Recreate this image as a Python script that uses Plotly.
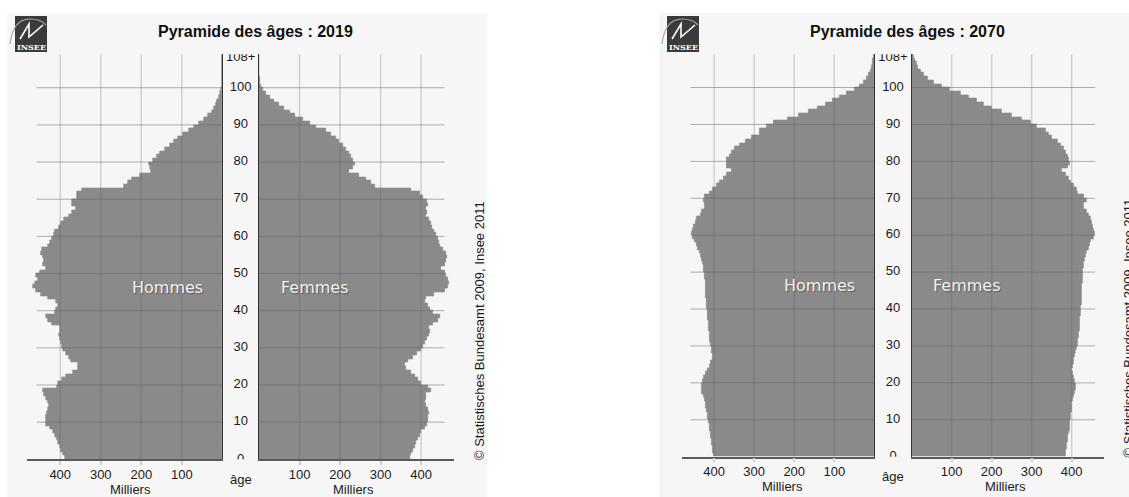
import plotly.graph_objects as go

# ---------------- data ----------------
ages = list(range(109))
age_ticks = [0, 10, 20, 30, 40, 50, 60, 70, 80, 90, 100, 108]
age_labels = ["0", "10", "20", "30", "40", "50", "60", "70", "80", "90", "100", "108+"]
age_grid = [10, 20, 30, 40, 50, 60, 70, 80, 90, 100]
x_ticks = [100, 200, 300, 400]
x_tick_labels = ["100", "200", "300", "400"]

hommes_2019 = [389, 393, 397, 401, 405, 409, 414, 418, 426, 435,
               435, 436, 433, 431, 428, 431, 435, 439, 443, 409,
               405, 395, 385, 369, 356, 356, 373, 379, 385, 392,
               396, 398, 401, 404, 401, 401, 420, 430, 435, 414,
               410, 405, 410, 430, 447, 459, 466, 463, 455, 459,
               451, 435, 442, 439, 442, 447, 444, 431, 426, 421,
               416, 412, 403, 398, 390, 379, 371, 360, 371, 371,
               359, 359, 346, 242, 232, 222, 202, 177, 179, 181,
               172, 162, 153, 141, 130, 119, 109, 96, 82, 69,
               57, 45, 35, 25, 20, 16, 12, 8, 6, 2.5,
               1.5, 0.8, 0.5, 0.3, 0.2, 0.1, 0.05, 0.03, 0.02]

femmes_2019 = [372, 376, 380, 384, 388, 392, 397, 401, 409, 415,
               417, 417, 420, 417, 413, 409, 411, 413, 425, 417,
               401, 392, 384, 376, 364, 360, 368, 380, 390, 401,
               405, 409, 415, 420, 421, 420, 429, 442, 447, 429,
               421, 417, 409, 413, 433, 458, 466, 470, 466, 462,
               458, 450, 458, 461, 465, 462, 454, 446, 444, 442,
               438, 431, 428, 424, 420, 411, 415, 411, 418, 415,
               405, 397, 376, 286, 276, 265, 247, 222, 231, 236,
               232, 228, 222, 214, 208, 198, 191, 177, 165, 140,
               126, 109, 90, 76, 62, 50, 38, 27, 17, 9,
               4, 2.5, 1.5, 0.8, 0.4, 0.2, 0.1, 0.05, 0.03]

hommes_2070 = [402, 403, 404, 405, 407, 408, 409, 410, 412, 413,
               415, 417, 418, 420, 421, 424, 427, 430, 432, 432,
               429, 425, 421, 416, 412, 408, 404, 404, 405, 407,
               409, 410, 411, 412, 413, 413, 414, 415, 416, 417,
               418, 418, 419, 420, 420, 421, 422, 422, 423, 424,
               425, 427, 429, 431, 433, 436, 440, 444, 449, 453,
               457, 453, 451, 446, 444, 434, 432, 423, 423, 426,
               423, 411, 403, 394, 386, 376, 368, 356, 368, 369,
               368, 361, 356, 348, 337, 321, 307, 287, 287, 269,
               252, 217, 190, 165, 142, 121, 103, 86, 69, 48,
               36, 26, 19, 13, 10, 7, 5, 3, 2]

femmes_2070 = [384, 385, 387, 388, 389, 391, 393, 394, 395, 396,
               397, 398, 399, 400, 401, 403, 405, 407, 409, 409,
               407, 404, 402, 401, 402, 404, 405, 407, 410, 412,
               415, 416, 417, 418, 419, 420, 421, 421, 422, 422,
               423, 424, 424, 425, 425, 426, 426, 427, 427, 428,
               428, 429, 430, 432, 434, 438, 443, 445, 448, 455,
               457, 455, 453, 451, 448, 443, 438, 430, 430, 437,
               430, 415, 412, 405, 397, 393, 384, 376, 389, 395,
               393, 389, 384, 379, 372, 364, 351, 343, 334, 312,
               297, 276, 251, 226, 201, 181, 162, 143, 122, 96,
               74, 56, 41, 31, 22, 16, 12, 7, 4]

# ---------------- figure ----------------
W, H = 1129, 497
FONT = "Liberation Sans, Arial, sans-serif"
BAR = "#8a8a8a"
PANEL_BG = "#f6f6f6"
VGRID = "rgba(88,88,88,0.24)"
HGRID = "rgba(100,100,100,0.5)"


def px(x):
    return x / W


def py(y):
    return 1 - y / H


panels = [
    dict(year="2019", hommes=hommes_2019, femmes=femmes_2019, ox=0, oy=0,
         hx0=27, h0=222.3, f0=259, fx1=454.3, yb=459.3, yt=54.3, xmax=482,
         hgrid=458, copy_x=479),
    dict(year="2070", hommes=hommes_2070, femmes=femmes_2070, ox=652, oy=-2.6,
         hx0=681.7, h0=874.3, f0=911.7, fx1=1104, yb=456.7, yt=54.3, xmax=481,
         hgrid=459, copy_x=476),
]

fig = go.Figure()
layout = dict(
    width=W, height=H, autosize=False,
    margin=dict(l=0, r=0, t=0, b=0, pad=0),
    paper_bgcolor="white", plot_bgcolor="rgba(0,0,0,0)",
    showlegend=False, barmode="overlay", bargap=0, bargroupgap=0,
    font=dict(family=FONT, size=13, color="#1a1a1a"),
)
shapes = []
annotations = []

bar_y = [a + 0.5 for a in ages]


def xn(k):
    return "x" if k == 1 else f"x{k}"


def yn(k):
    return "y" if k == 1 else f"y{k}"


def xl(k):
    return "xaxis" if k == 1 else f"xaxis{k}"


def yl(k):
    return "yaxis" if k == 1 else f"yaxis{k}"


for i, p in enumerate(panels):
    xh, xf, xm = 3 * i + 1, 3 * i + 2, 3 * i + 3
    yh, yf = 2 * i + 1, 2 * i + 2

    for vals, xa, ya in ((p["hommes"], xh, yh), (p["femmes"], xf, yf)):
        fig.add_trace(go.Bar(x=vals, y=bar_y, orientation="h", width=1,
                             marker=dict(color=BAR, line=dict(width=0.6, color=BAR)),
                             xaxis=xn(xa), yaxis=yn(ya), hoverinfo="skip"))
        # grid lines drawn over the bars, as in the original
        for t in age_grid:
            shapes.append(dict(type="line", xref=xn(xa), yref=yn(ya), layer="above",
                               x0=0, x1=p["hgrid"], y0=t, y1=t,
                               line=dict(color=HGRID, width=1)))
        for t in x_ticks:
            shapes.append(dict(type="line", xref=xn(xa), yref=yn(ya), layer="above",
                               x0=t, x1=t, y0=0, y1=109,
                               line=dict(color=VGRID, width=1.5)))

    fig.add_trace(go.Scatter(x=[0.5] * len(age_ticks), y=age_ticks, mode="text",
                             text=age_labels,
                             textfont=dict(family=FONT, size=13, color="#1a1a1a"),
                             xaxis=xn(xm), yaxis=yn(yh), hoverinfo="skip"))

    ydom = [py(p["yb"]), py(p["yt"])]
    xcommon = dict(tickvals=x_ticks, ticktext=x_tick_labels, showgrid=False,
                   zeroline=False,
                   showline=True, linecolor="#5a5a5a", linewidth=1.5,
                   ticks="outside", ticklen=4, tickcolor="#d0d0d0", tickwidth=1.5,
                   ticklabelstandoff=-2,
                   tickfont=dict(family=FONT, size=13, color="#1a1a1a"),
                   fixedrange=True)
    ycommon = dict(range=[0, 109], domain=ydom,
                   showticklabels=False, ticks="", showgrid=False, zeroline=False,
                   showline=True, linecolor="#333333", linewidth=1,
                   fixedrange=True)
    layout[xl(xh)] = dict(domain=[px(p["hx0"]), px(p["h0"])],
                          range=[p["xmax"], 0], anchor=yn(yh), **xcommon)
    layout[xl(xf)] = dict(domain=[px(p["f0"]), px(p["fx1"])],
                          range=[0, p["xmax"]], anchor=yn(yf), **xcommon)
    layout[xl(xm)] = dict(domain=[px(p["h0"]), px(p["f0"])], range=[0, 1],
                          anchor=yn(yh), visible=False, fixedrange=True)
    layout[yl(yh)] = dict(anchor=xn(xh), side="right", **ycommon)
    layout[yl(yf)] = dict(anchor=xn(xf), side="left", **ycommon)

    ox, oy = p["ox"], p["oy"]
    # panel background
    shapes.append(dict(type="rect", xref="paper", yref="paper", layer="below",
                       x0=px(7 + ox), x1=px(487 + ox), y0=0, y1=py(14 + oy / 2),
                       fillcolor=PANEL_BG, line=dict(width=0)))
    # INSEE logo
    shapes.append(dict(type="rect", xref="paper", yref="paper", layer="above",
                       x0=px(15 + ox), x1=px(47 + ox), y0=py(52), y1=py(16),
                       fillcolor="#3b3b3b", line=dict(width=0)))
    arc = "M {} {} Q {} {} {} {} Q {} {} {} {}".format(
        px(10 + ox), py(44), px(13 + ox), py(19), px(30 + ox), py(19),
        px(41 + ox), py(19), px(46 + ox), py(25))
    shapes.append(dict(type="path", xref="paper", yref="paper", layer="above",
                       path=arc, line=dict(color="#a8a8a8", width=1.2)))
    zig = "M {} {} L {} {} L {} {} L {} {}".format(
        px(20 + ox), py(39), px(29 + ox), py(24), px(29 + ox), py(37),
        px(43 + ox), py(25))
    shapes.append(dict(type="path", xref="paper", yref="paper", layer="above",
                       path=zig, line=dict(color="white", width=1.6)))
    annotations.append(dict(x=px(31 + ox), y=py(46.5), xref="paper", yref="paper",
                            text="<b>INSEE</b>", showarrow=False,
                            font=dict(family="DejaVu Serif", size=8, color="white"),
                            xanchor="center", yanchor="middle"))
    # title
    annotations.append(dict(x=px(255 + ox), y=py(32), xref="paper", yref="paper",
                            text=f"<b>Pyramide des âges : {p['year']}</b>",
                            showarrow=False,
                            font=dict(family=FONT, size=16, color="#111111"),
                            xanchor="center", yanchor="middle"))
    # sex labels
    for txt, xc in (("Hommes", 167), ("Femmes", 315)):
        annotations.append(dict(x=px(xc + ox), y=py(287 + oy / 2), xref="paper",
                                yref="paper", text=txt, showarrow=False,
                                font=dict(family="DejaVu Sans", size=16,
                                          color="#f2f2f2",
                                          shadow="1px 1px 1px rgba(0,0,0,0.35)"),
                                xanchor="center", yanchor="middle"))
    # axis titles
    for xc in (130, 353):
        annotations.append(dict(x=px(xc + ox), y=py(489.5 + oy), xref="paper",
                                yref="paper", text="Milliers", showarrow=False,
                                font=dict(family=FONT, size=13, color="#1a1a1a"),
                                xanchor="center", yanchor="middle"))
    annotations.append(dict(x=px(241 + ox), y=py(479 + oy), xref="paper",
                            yref="paper", text="âge", showarrow=False,
                            font=dict(family=FONT, size=13, color="#1a1a1a"),
                            xanchor="center", yanchor="middle"))
    # copyright
    annotations.append(dict(x=px(p["copy_x"] + ox), y=py(331 + oy), xref="paper",
                            yref="paper",
                            text="© Statistisches Bundesamt 2009, Insee 2011",
                            textangle=-90, showarrow=False,
                            font=dict(family=FONT, size=13, color="#1a1a1a"),
                            xanchor="center", yanchor="middle"))

layout["shapes"] = shapes
layout["annotations"] = annotations
fig.update_layout(**layout)

fig.write_html("out.html", config={"displayModeBar": False},
               post_script="document.body.style.margin='0';"
                           "document.body.style.overflow='hidden';")
